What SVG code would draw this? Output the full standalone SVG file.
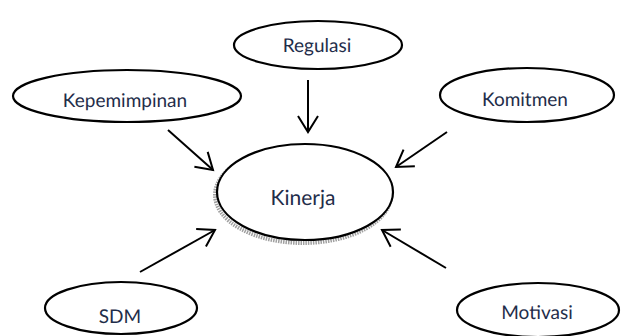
<svg xmlns="http://www.w3.org/2000/svg" width="621" height="336" viewBox="0 0 621 336">
<defs>
<style>
.node{fill:#fff;stroke:#000;stroke-width:2.2}
.lbl{font-family:Lato,"Open Sans",sans-serif;font-size:19px;fill:#1f2d4a;text-anchor:middle;text-rendering:geometricPrecision}
.big{font-size:21px}
.conn line{stroke:#000;stroke-width:2;marker-end:url(#ah)}
</style>
<marker id="ah" markerUnits="userSpaceOnUse" viewBox="-20 -13 24 26" refX="0" refY="0" markerWidth="24" markerHeight="26" orient="auto" overflow="visible">
<path d="M-16,-10 L0,0 L-16,10" fill="none" stroke="#000" stroke-width="2"/>
</marker>
</defs>
<rect width="621" height="336" fill="#fff"/>
<g id="regulasi"><ellipse class="node" cx="318" cy="45" rx="84" ry="24"/><text class="lbl" x="317" y="52">Regulasi</text></g>
<g id="kepemimpinan"><ellipse class="node" cx="127" cy="96" rx="114" ry="26"/><text class="lbl" x="125" y="107">Kepemimpinan</text></g>
<g id="komitmen"><ellipse class="node" cx="527" cy="95" rx="87" ry="27"/><text class="lbl" x="525" y="106">Komitmen</text></g>
<g id="sdm"><ellipse class="node" cx="121" cy="308" rx="76" ry="26"/><text class="lbl" x="120" y="323">SDM</text></g>
<g id="motivasi"><ellipse class="node" cx="538" cy="310" rx="81" ry="27"/><text class="lbl" x="537" y="319">Motivasi</text></g>
<g id="kinerja">
<ellipse cx="303" cy="195" rx="88" ry="48" fill="none" stroke="#a0a0a0" stroke-width="4" stroke-dasharray="1.5 1"/>
<ellipse class="node" cx="305" cy="192" rx="88" ry="48"/>
<text class="lbl big" x="303" y="205">Kinerja</text></g>
<g id="connectors" class="conn">
<line x1="308" y1="80" x2="308" y2="132"/>
<line x1="168" y1="130" x2="213" y2="170"/>
<line x1="447" y1="132" x2="396" y2="167"/>
<line x1="140" y1="272" x2="215" y2="230"/>
<line x1="446" y1="268" x2="382" y2="230"/>
</g>
</svg>
